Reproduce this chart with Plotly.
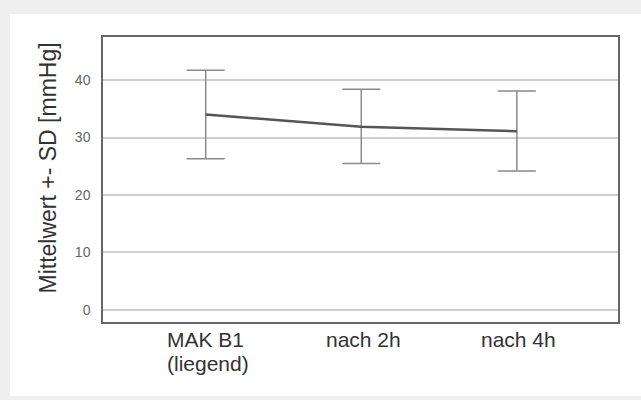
import plotly.graph_objects as go

categories = ["MAK B1<br>(liegend)", "nach 2h", "nach 4h"]
means = [34.0, 31.9, 31.1]
sd_upper = [41.7, 38.4, 38.1]
sd_lower = [26.3, 25.5, 24.2]
y_ticks = [0, 10, 20, 30, 40]
y_title = "Mittelwert +- SD [mmHg]"

x_pos = list(range(len(categories)))
err_plus = [u - m for u, m in zip(sd_upper, means)]
err_minus = [m - l for m, l in zip(means, sd_lower)]

fig = go.Figure()
fig.add_trace(go.Scatter(
    x=x_pos, y=means, mode="lines",
    line=dict(color="#555555", width=2.5),
    error_y=dict(type="data", symmetric=False, array=err_plus, arrayminus=err_minus,
                 color="#8a8a8a", thickness=1.5, width=19),
    showlegend=False, hoverinfo="skip",
))

W, H = 641, 400
L, R, T, B = 103, 23, 37, 78
pw, ph = W - L - R, H - T - B

def px_x(x):
    return (x - L) / pw

def px_y(y):
    return (H - B - y) / ph

fig.add_shape(type="rect", xref="paper", yref="paper",
              x0=px_x(10), x1=px_x(641), y0=px_y(396), y1=px_y(14),
              fillcolor="white", line=dict(width=0), layer="below")

font_family = "Liberation Sans, Arial, sans-serif"

# category labels (left-aligned block for multi-line)
line_h = 24
for xi, label in zip(x_pos, categories):
    lines = label.split("<br>")
    multi = len(lines) > 1
    for li, txt in enumerate(lines):
        fig.add_annotation(
            x=xi, xref="x", y=0, yref="paper", text=txt, showarrow=False,
            xanchor="left" if multi else "center", yanchor="top",
            xshift=-40 if multi else 2, yshift=-5 - line_h * li, borderpad=0,
            font=dict(family=font_family, size=21, color="#333333"),
        )

# y-axis title
fig.add_annotation(
    x=px_x(47), xref="paper", y=px_y(168.5), yref="paper", text=y_title,
    showarrow=False, textangle=-90, xanchor="center", yanchor="middle",
    font=dict(family=font_family, size=23, color="#333333"),
)

fig.update_layout(
    width=W, height=H,
    margin=dict(l=L, r=R, t=T, b=B, pad=0),
    paper_bgcolor="#efefef",
    plot_bgcolor="rgba(0,0,0,0)",
    font=dict(family=font_family, color="#333333"),
    xaxis=dict(
        range=[-0.66, 2.65], tickmode="array", tickvals=x_pos,
        showticklabels=False,
        showgrid=False, zeroline=False, showline=True, mirror=True,
        linecolor="#666666", linewidth=1.5, ticks="",
    ),
    yaxis=dict(
        range=[-2.1, 47.5], tickmode="array", tickvals=y_ticks,
        showgrid=True, gridcolor="#cfcfcf", gridwidth=1.5, zeroline=False,
        showline=True, mirror=True, linecolor="#666666", linewidth=1.5,
        tickfont=dict(size=14, color="#666666"), ticks="", ticklabelstandoff=8,
    ),
)

fig.write_html("out.html")
